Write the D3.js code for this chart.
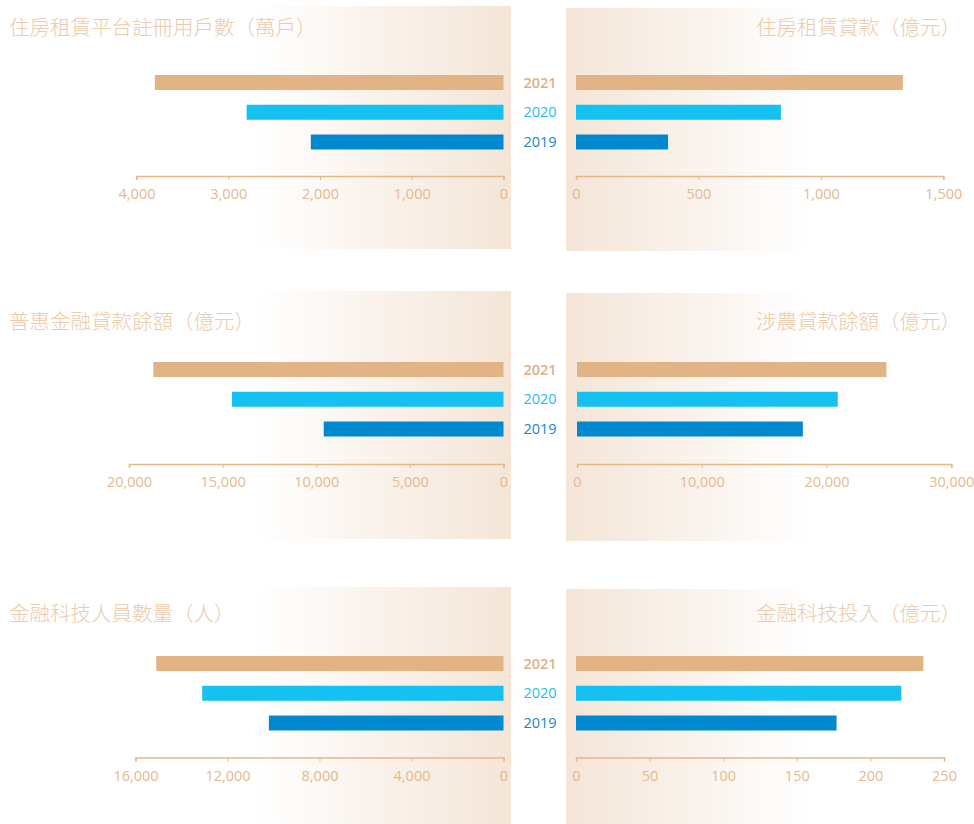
<!DOCTYPE html>
<html>
<head>
<meta charset="utf-8">
<script src="https://cdn.jsdelivr.net/npm/d3@7"></script>
<style>
  body { margin: 0; background: #fff; }
  svg { display: block; }
  .tick text { font-family: "Open Sans", sans-serif; }
</style>
</head>
<body>
<div id="chart"></div>
<script>
// data
const years = ['2021', '2020', '2019'];
const yearColors = ['#e2b485', '#15c1f1', '#0089cf'];
const yearLabelColors = ['#e0b083', '#1cbff0', '#1487cc'];
const yearLabelWeights = [600, 400, 400];

const rentalUsers = [3800, 2800, 2100];        // 萬戶
const rentalLoans = [1335, 837, 376];          // 億元
const inclusiveLoans = [18700, 14500, 9600];   // 億元
const agriLoans = [24800, 20900, 18100];       // 億元
const fintechStaff = [15100, 13100, 10200];    // 人
const fintechInvest = [236, 221, 177];         // 億元

const rentalUsersTicks = [0, 1000, 2000, 3000, 4000];
const rentalLoansTicks = [0, 500, 1000, 1500];
const inclusiveTicks = [0, 5000, 10000, 15000, 20000];
const agriTicks = [0, 10000, 20000, 30000];
const staffTicks = [0, 4000, 8000, 12000, 16000];
const investTicks = [0, 50, 100, 150, 200, 250];

const titles = [
  '住房租賃平台註冊用戶數（萬戶）', '住房租賃貸款（億元）',
  '普惠金融貸款餘額（億元）', '涉農貸款餘額（億元）',
  '金融科技人員數量（人）', '金融科技投入（億元）'
];

const width = 974, height = 824;

const svg = d3.select('#chart').append('svg')
  .attr('width', width)
  .attr('height', height);

const defs = svg.append('defs');

// gradient for left panels: white -> beige toward the middle
const gl = defs.append('linearGradient')
  .attr('id', 'gradLeft')
  .attr('gradientUnits', 'userSpaceOnUse')
  .attr('x1', 0).attr('x2', 511).attr('y1', 0).attr('y2', 0);
gl.append('stop').attr('offset', 0.5).attr('stop-color', '#ffffff');
gl.append('stop').attr('offset', 1).attr('stop-color', '#f4e5d7');

const gr = defs.append('linearGradient')
  .attr('id', 'gradRight')
  .attr('gradientUnits', 'userSpaceOnUse')
  .attr('x1', 566).attr('x2', 974).attr('y1', 0).attr('y2', 0);
gr.append('stop').attr('offset', 0).attr('stop-color', '#f4e5d7');
gr.append('stop').attr('offset', 0.6).attr('stop-color', '#ffffff');

// row layout
const rows = [
  { top: 6, bottom: 249, barTop: 82.5, axisY: 176, titleY: 28 },
  { top: 291, bottom: 539, barTop: 369.5, axisY: 464, titleY: 322 },
  { top: 587, bottom: 824, barTop: 663.5, axisY: 757.5, titleY: 614 }
];

const panels = [
  { row: 0, side: 'left', values: rentalUsers, ticks: rentalUsersTicks, range: [503.5, 136.5] },
  { row: 0, side: 'right', values: rentalLoans, ticks: rentalLoansTicks, range: [576, 943.3] },
  { row: 1, side: 'left', values: inclusiveLoans, ticks: inclusiveTicks, range: [503.5, 129] },
  { row: 1, side: 'right', values: agriLoans, ticks: agriTicks, range: [577, 951.3] },
  { row: 2, side: 'left', values: fintechStaff, ticks: staffTicks, range: [503.5, 135.5] },
  { row: 2, side: 'right', values: fintechInvest, ticks: investTicks, range: [576, 944] }
];

panels.forEach(function(p, i) {
  const r = rows[p.row];
  const g = svg.append('g');

  // background panel
  if (p.side === 'left') {
    g.append('rect')
      .attr('x', 0).attr('y', r.top)
      .attr('width', 511).attr('height', r.bottom - r.top)
      .attr('fill', 'url(#gradLeft)');
  } else {
    g.append('rect')
      .attr('x', 566).attr('y', r.top + 2)
      .attr('width', width - 566).attr('height', r.bottom - r.top)
      .attr('fill', 'url(#gradRight)');
  }

  const x = d3.scaleLinear()
    .domain([0, d3.max(p.ticks)])
    .range(p.range);

  const y = d3.scalePoint()
    .domain(years)
    .range([r.barTop, r.barTop + 59.5]);

  const barH = 15;

  // bars
  g.selectAll('.bar')
    .data(years.map((yr, k) => ({ year: yr, value: p.values[k], color: yearColors[k] })))
    .enter().append('rect')
    .attr('class', 'bar')
    .attr('x', d => Math.min(x(0), x(d.value)))
    .attr('y', d => y(d.year) - barH / 2)
    .attr('width', d => Math.abs(x(d.value) - x(0)))
    .attr('height', barH)
    .attr('fill', d => d.color);

  // axis
  const axis = d3.axisBottom(x)
    .tickValues(p.ticks)
    .tickSize(4)
    .tickSizeOuter(4)
    .tickPadding(9)
    .tickFormat(d3.format(','));

  const ax = g.append('g')
    .attr('transform', `translate(0,${r.axisY})`)
    .call(axis);
  ax.select('.domain').attr('stroke', '#e8b684').attr('stroke-width', 1.5);
  ax.selectAll('.tick line').attr('stroke', '#e8b684').attr('stroke-width', 1);
  ax.selectAll('.tick text')
    .attr('fill', '#e6b88c')
    .style('font-size', '14.5px');

  // title
  g.append('text')
    .attr('x', p.side === 'left' ? 9 : 961)
    .attr('y', r.titleY)
    .attr('dy', '0.35em')
    .attr('text-anchor', p.side === 'left' ? 'start' : 'end')
    .attr('fill', '#eccbab')
    .style('font-family', '"Noto Sans CJK TC", "Noto Sans CJK SC", sans-serif')
    .style('font-weight', 300)
    .style('font-size', '20.5px')
    .text(titles[i]);

  // year labels in the gap between the two panels
  if (p.side === 'left') {
    svg.selectAll(null)
      .data(years)
      .enter().append('text')
      .attr('x', 540)
      .attr('y', d => y(d))
      .attr('dy', '0.36em')
      .attr('text-anchor', 'middle')
      .attr('fill', (d, k) => yearLabelColors[k])
      .style('font-family', '"Open Sans", sans-serif')
      .style('font-weight', (d, k) => yearLabelWeights[k])
      .style('font-size', '14.5px')
      .text(d => d);
  }
});
</script>
</body>
</html>
